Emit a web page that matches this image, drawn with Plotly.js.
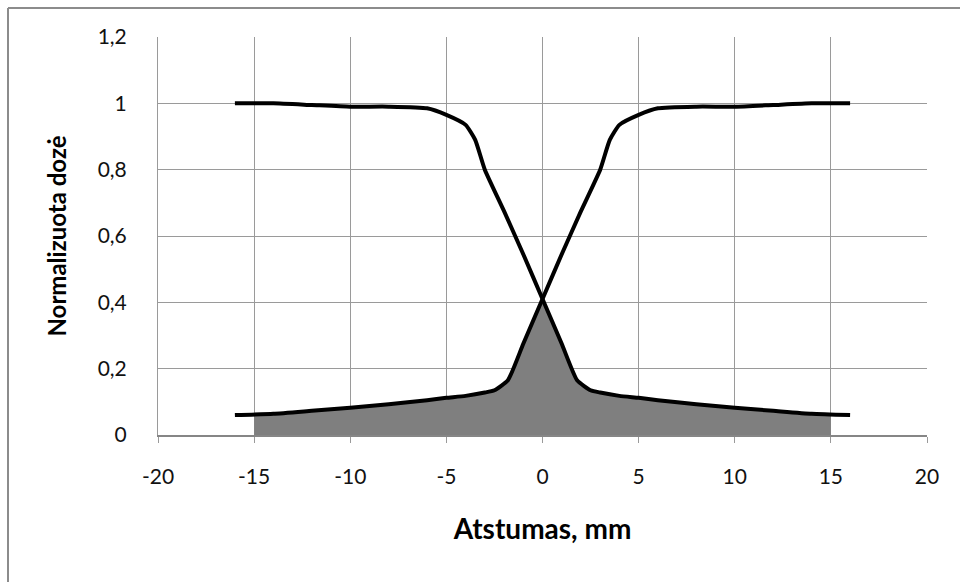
<!DOCTYPE html>
<html>
<head>
<meta charset="utf-8">
<script src="https://cdn.plot.ly/plotly-3.0.1.min.js"></script>
<style>
  html, body { margin: 0; padding: 0; background: #fff; overflow: hidden; }
  #chart { width: 960px; height: 582px; }
</style>
</head>
<body>
<div id="chart"></div>
<script>
// Falling profile (left field edge)
const xFall = [-16, -14, -12, -10, -8, -6, -5, -4, -3.5, -3, -2, -1, 0, 1, 1.8, 2.5, 3, 4, 5, 6, 8, 10, 12, 14, 16];
const yFall = [1.0, 1.0, 0.995, 0.99, 0.99, 0.985, 0.965, 0.935, 0.89, 0.80, 0.675, 0.545, 0.41, 0.275, 0.165, 0.135, 0.128, 0.118, 0.112, 0.105, 0.093, 0.082, 0.073, 0.064, 0.06];

// Rising profile (right field edge)
const xRise = [-16, -14, -12, -10, -8, -6, -5, -4, -3, -2.5, -1.8, -1, 0, 1, 2, 3, 3.5, 4, 5, 6, 8, 10, 12, 14, 16];
const yRise = [0.06, 0.064, 0.073, 0.082, 0.093, 0.105, 0.112, 0.118, 0.128, 0.135, 0.165, 0.275, 0.41, 0.545, 0.675, 0.80, 0.89, 0.935, 0.965, 0.985, 0.99, 0.99, 0.995, 1.0, 1.0];

// Shaded overlap region
const xArea = [-15, -14, -12, -10, -8, -6, -5, -4, -3, -2.5, -1.8, -1, 0, 1, 1.8, 2.5, 3, 4, 5, 6, 8, 10, 12, 14, 15];
const yArea = [0.062, 0.064, 0.073, 0.082, 0.093, 0.105, 0.112, 0.118, 0.128, 0.135, 0.165, 0.275, 0.41, 0.275, 0.165, 0.135, 0.128, 0.118, 0.112, 0.105, 0.093, 0.082, 0.073, 0.064, 0.062];

const xTicks = [-20, -15, -10, -5, 0, 5, 10, 15, 20];
const yTicks = [0, 0.2, 0.4, 0.6, 0.8, 1, 1.2];
const yTickText = ['0', '0,2', '0,4', '0,6', '0,8', '1', '1,2'];

const font = "Lato, 'Open Sans', sans-serif";

const traces = [
  { x: xArea, y: yArea, type: 'scatter', mode: 'lines', fill: 'tozeroy',
    fillcolor: '#7f7f7f', line: { width: 0, shape: 'spline', smoothing: 0.5, color: '#7f7f7f' },
    hoverinfo: 'skip', showlegend: false },
  { x: xFall, y: yFall, type: 'scatter', mode: 'lines',
    line: { color: '#000', width: 4, shape: 'spline', smoothing: 0.5 }, showlegend: false },
  { x: xRise, y: yRise, type: 'scatter', mode: 'lines',
    line: { color: '#000', width: 4, shape: 'spline', smoothing: 0.5 }, showlegend: false }
];

// chart-area frame (only top and left edges are visible in the reference)
const plotW = 960 - 158 - 33, plotH = 582 - 37 - 147;
const fx = (8 - 158) / plotW;          // paper x of frame left edge
const fy = 1 + (37 - 8) / plotH;       // paper y of frame top edge
const fxr = 1 + (33 + 20) / plotW;     // beyond right edge
const fyb = -(147 + 20) / plotH;       // beyond bottom edge

const layout = {
  width: 960, height: 582,
  margin: { l: 158, r: 33, t: 37, b: 147 },
  paper_bgcolor: '#fff', plot_bgcolor: '#fff',
  separators: ', ',
  showlegend: false,
  font: { family: font, color: '#000', size: 21 },
  shapes: [
    { type: 'line', xref: 'paper', yref: 'paper', x0: fx, x1: fxr, y0: fy, y1: fy,
      line: { color: '#8c8c8c', width: 2 }, layer: 'above' },
    { type: 'line', xref: 'paper', yref: 'paper', x0: fx, x1: fx, y0: fy, y1: fyb,
      line: { color: '#8c8c8c', width: 2 }, layer: 'above' }
  ],
  xaxis: {
    range: [-20, 20], tickvals: xTicks, ticktext: xTicks.map(String),
    showgrid: true, gridcolor: '#9a9a9a', gridwidth: 1,
    zeroline: false, showline: true, linecolor: '#868686', linewidth: 2,
    ticks: 'outside', ticklen: 6, tickcolor: '#9a9a9a', tickwidth: 1,
    ticklabelstandoff: 16,
    tickfont: { family: font, size: 21, color: '#111' },
    title: { text: '<b>Atstumas, mm</b>', font: { family: font, size: 28, color: '#000' }, standoff: 32 }
  },
  yaxis: {
    range: [0, 1.2], tickvals: yTicks, ticktext: yTickText,
    showgrid: true, gridcolor: '#9a9a9a', gridwidth: 1,
    zeroline: false, showline: true, linecolor: '#9a9a9a', linewidth: 1,
    ticks: '', ticklabelstandoff: 26,
    tickfont: { family: font, size: 21, color: '#111' },
    title: { text: '<b>Normalizuota dozė</b>', font: { family: font, size: 24, color: '#000' }, standoff: 24 }
  }
};

Plotly.newPlot('chart', traces, layout, { displayModeBar: false, staticPlot: true });
</script>
</body>
</html>
